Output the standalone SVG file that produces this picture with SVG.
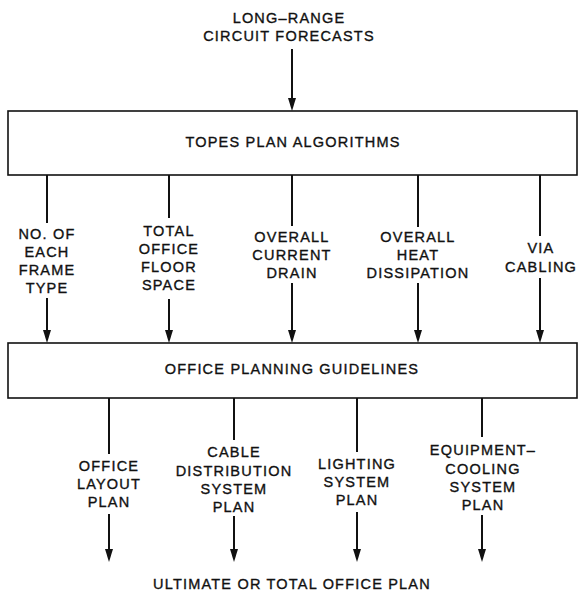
<svg xmlns="http://www.w3.org/2000/svg" width="578" height="592" viewBox="0 0 578 592">
<style>
text{font-family:"Liberation Sans",Arial,sans-serif;font-size:14.5px;fill:#111;stroke:#111;stroke-width:0.35;text-anchor:middle;letter-spacing:1.2px}
.box{fill:#fff;stroke:#111;stroke-width:1.6}
.ln{stroke:#111;stroke-width:2;fill:none}
.ah{fill:#111}
</style>
<rect width="578" height="592" fill="#fff"/>
<g id="connectors">
<path class="ln" d="M292,49 V100"/>
<path class="ln" d="M47,175 V223 M47,298 V332"/>
<path class="ln" d="M169,175 V218 M169,299 V332"/>
<path class="ln" d="M292,175 V226 M292,283 V332"/>
<path class="ln" d="M418,175 V227 M418,283 V332"/>
<path class="ln" d="M540,175 V236 M540,278 V332"/>
<path class="ln" d="M109,398 V454 M109,514 V551"/>
<path class="ln" d="M234,398 V440 M234,516 V551"/>
<path class="ln" d="M357,398 V452 M357,512 V551"/>
<path class="ln" d="M482,398 V437 M482,515 V551"/>
<g class="ah">
<path d="M288,98 L296,98 L292,111 Z"/>
<path d="M43,330 L51,330 L47,343 Z"/>
<path d="M165,330 L173,330 L169,343 Z"/>
<path d="M288,330 L296,330 L292,343 Z"/>
<path d="M414,330 L422,330 L418,343 Z"/>
<path d="M536,330 L544,330 L540,343 Z"/>
<path d="M105,549 L113,549 L109,562 Z"/>
<path d="M230,549 L238,549 L234,562 Z"/>
<path d="M353,549 L361,549 L357,562 Z"/>
<path d="M478,549 L486,549 L482,562 Z"/>
</g>
</g>
<g id="input">
<text x="289" y="23">LONG–RANGE</text>
<text x="289" y="41">CIRCUIT FORECASTS</text>
</g>
<g id="topes">
<rect class="box" x="8" y="111" width="569" height="64"/>
<text x="293" y="147">TOPES PLAN ALGORITHMS</text>
</g>
<g id="frame">
<text x="47" y="239">NO. OF</text>
<text x="47" y="257">EACH</text>
<text x="47" y="275">FRAME</text>
<text x="47" y="293">TYPE</text>
</g>
<g id="floor">
<text x="169" y="236">TOTAL</text>
<text x="169" y="254">OFFICE</text>
<text x="169" y="272">FLOOR</text>
<text x="169" y="290">SPACE</text>
</g>
<g id="current">
<text x="292" y="242">OVERALL</text>
<text x="292" y="260">CURRENT</text>
<text x="292" y="278">DRAIN</text>
</g>
<g id="heat">
<text x="418" y="242">OVERALL</text>
<text x="418" y="260">HEAT</text>
<text x="418" y="278">DISSIPATION</text>
</g>
<g id="cabling">
<text x="541" y="253">VIA</text>
<text x="541" y="272">CABLING</text>
</g>
<g id="guidelines">
<rect class="box" x="8" y="343" width="569" height="55"/>
<text x="292" y="374">OFFICE PLANNING GUIDELINES</text>
</g>
<g id="layout">
<text x="109" y="471">OFFICE</text>
<text x="109" y="489">LAYOUT</text>
<text x="109" y="507">PLAN</text>
</g>
<g id="cable">
<text x="234" y="457">CABLE</text>
<text x="234" y="476">DISTRIBUTION</text>
<text x="234" y="494">SYSTEM</text>
<text x="234" y="512">PLAN</text>
</g>
<g id="lighting">
<text x="357" y="469">LIGHTING</text>
<text x="357" y="487">SYSTEM</text>
<text x="357" y="505">PLAN</text>
</g>
<g id="cooling">
<text x="483" y="455">EQUIPMENT–</text>
<text x="483" y="474">COOLING</text>
<text x="483" y="492">SYSTEM</text>
<text x="483" y="510">PLAN</text>
</g>
<g id="ultimate">
<text x="292" y="589">ULTIMATE OR TOTAL OFFICE PLAN</text>
</g>
</svg>
